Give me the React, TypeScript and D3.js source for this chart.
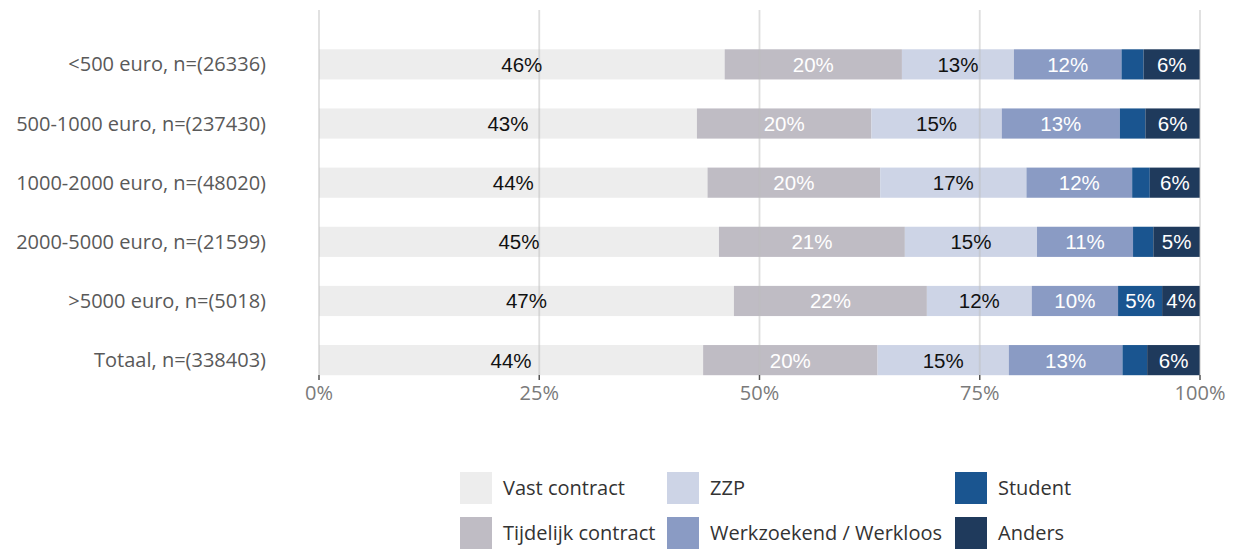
import React from "react";
import * as d3 from "d3";

const categories = [
  "<500 euro, n=(26336)",
  "500-1000 euro, n=(237430)",
  "1000-2000 euro, n=(48020)",
  "2000-5000 euro, n=(21599)",
  ">5000 euro, n=(5018)",
  "Totaal, n=(338403)",
];
const seriesNames = ["Vast contract", "Tijdelijk contract", "ZZP", "Werkzoekend / Werkloos", "Student", "Anders"];
const vast = [46.0, 42.9, 44.1, 45.4, 47.1, 43.6];
const tijdelijk = [20.1, 19.8, 19.6, 21.1, 21.9, 19.8];
const zzp = [12.7, 14.8, 16.6, 15.0, 11.9, 14.9];
const werkzoekend = [12.2, 13.4, 12.0, 10.9, 9.8, 12.9];
const student = [2.5, 2.9, 2.0, 2.3, 5.0, 2.8];
const anders = [6.4, 6.2, 5.7, 5.3, 4.3, 6.0];
const tickValues = [0, 25, 50, 75, 100];

const colors = ["#ededed", "#bfbcc4", "#cdd4e6", "#8a9bc4", "#1a5590", "#1f3a5c"];
const labelColors = ["#111", "#fff", "#111", "#fff", "#fff", "#fff"];

export default function App() {
  const W = 1236, H = 549;
  const left = 319, right = 1200, top = 10, bottom = 375;
  const x = d3.scaleLinear().domain([0, 100]).range([left, right]);
  const y = d3.scaleBand().domain(categories).range([34.5, 390]).paddingInner(0.49).paddingOuter(0.25);
  const series = [vast, tijdelijk, zzp, werkzoekend, student, anders];
  const table = categories.map((c, i) => {
    const o: any = { cat: c };
    seriesNames.forEach((s, j) => (o[s] = series[j][i]));
    return o;
  });
  const stacked = d3.stack().keys(seriesNames).offset(d3.stackOffsetExpand)(table);
  const labelFont = "'Liberation Sans', Arial, sans-serif";
  const uiFont = "'Open Sans', Lato, sans-serif";

  const legendCols = [460, 667, 955];
  const legendRows = [472, 517];
  const legendOrder = [
    [0, 0, 0], [1, 0, 1], [2, 1, 0], [3, 1, 1], [4, 2, 0], [5, 2, 1],
  ];

  return (
    <svg width={W} height={H} style={{ position: "absolute", left: 0, top: 0, background: "#fff" }}>
      {stacked.map((layer, j) => (
        <g key={j}>
          {layer.map((d, i) => {
            const x0 = x(d[0] * 100), x1 = x(d[1] * 100);
            const yy = y(categories[i])!;
            return <rect key={i} x={x0} y={yy} width={x1 - x0} height={y.bandwidth()} fill={colors[j]} />;
          })}
        </g>
      ))}
      {tickValues.map((t) => (
        <line key={t} x1={x(t)} x2={x(t)} y1={top} y2={bottom} stroke="rgba(190,190,190,0.5)" strokeWidth={1.8} />
      ))}
      {stacked.map((layer, j) => (
        <g key={"l" + j}>
          {layer.map((d, i) => {
            const v = series[j][i];
            if (v < 3.5) return null;
            const x0 = x(d[0] * 100), x1 = x(d[1] * 100);
            const yy = y(categories[i])! + y.bandwidth() / 2;
            return (
              <text key={i} x={(x0 + x1) / 2} y={yy} dy="0.36em" textAnchor="middle" fontFamily={labelFont} fontSize={20.5} fill={labelColors[j]}>
                {Math.round(v)}%
              </text>
            );
          })}
        </g>
      ))}
      {categories.map((c) => (
        <text key={c} x={266} y={y(c)! + y.bandwidth() / 2} dy="0.35em" textAnchor="end" fontFamily={uiFont} fontSize={20} fill="#595959">
          {c}
        </text>
      ))}
      {tickValues.map((t) => (
        <g key={"t" + t}>
          <line x1={x(t)} x2={x(t)} y1={bottom} y2={bottom + 5} stroke="#555" strokeWidth={1.5} />
          <text x={x(t)} y={393} dy="0.35em" textAnchor="middle" fontFamily={uiFont} fontSize={20} fill="#7a7a7a">
            {t}%
          </text>
        </g>
      ))}
      {legendOrder.map(([s, c, r]) => (
        <g key={"lg" + s}>
          <rect x={legendCols[c]} y={legendRows[r]} width={32} height={32} fill={colors[s]} />
          <text x={legendCols[c] + 43} y={legendRows[r] + 16} dy="0.35em" fontFamily={uiFont} fontSize={20} fill="#333">
            {seriesNames[s]}
          </text>
        </g>
      ))}
    </svg>
  );
}
